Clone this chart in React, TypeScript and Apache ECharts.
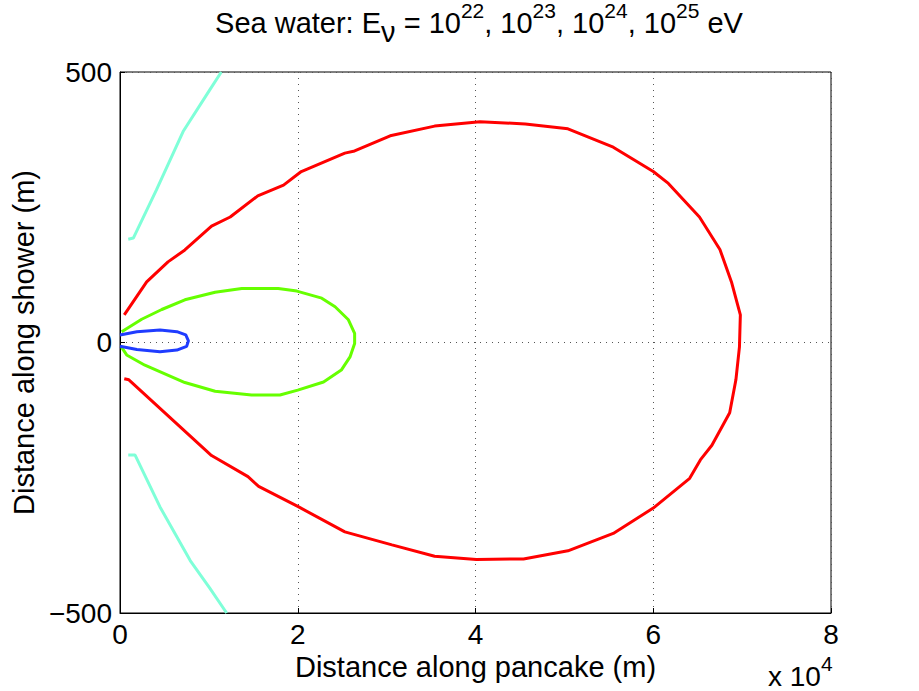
import React, { useEffect, useRef } from "react";
import * as echarts from "echarts";

// Contour lines: [distance along pancake (m), distance along shower (m)]
const red1e22: number[][] = [
  [480, 51], [3000, 112], [5400, 149], [7300, 171], [10300, 215], [12400, 232],
  [15500, 271], [18400, 291], [20400, 316], [25300, 350], [26400, 354],
  [30400, 382], [35400, 400], [40500, 408], [45600, 404], [50400, 395],
  [55500, 361], [60000, 316], [61700, 294], [65200, 232], [67500, 172],
  [68800, 112], [69800, 51], [69700, -8], [69300, -69], [68600, -130],
  [66600, -190], [65300, -217], [64100, -251], [60000, -306], [55500, -353],
  [50400, -385], [45400, -400], [40100, -401], [35400, -395], [30600, -374],
  [25300, -350], [20000, -303], [15600, -266], [14400, -248], [10300, -209],
  [1000, -69], [480, -67],
];
const green1e23: number[][] = [
  [190, 20], [2440, 43], [4700, 61], [7300, 79], [10700, 93], [13700, 100],
  [17800, 100], [19900, 95], [22700, 82], [24200, 66], [25700, 42], [26400, 17],
  [26400, -2], [25900, -26], [24900, -51], [22900, -73], [20000, -88],
  [18000, -97], [14800, -97], [10700, -90], [7300, -74], [2800, -42],
  [750, -23], [190, -9],
];
const blue1e22: number[][] = [
  [0, 14], [1900, 20], [4500, 23], [6400, 20], [7400, 14], [7700, 3],
  [7500, -7], [6400, -14], [4500, -17], [1900, -13], [0, -7],
];
const cyanUpper: number[][] = [
  [930, 191], [1500, 193], [4100, 282], [7100, 390], [10100, 467], [11400, 500],
];
const cyanLower: number[][] = [
  [930, -208], [1700, -208], [4500, -304], [7900, -403], [10100, -454], [12000, -500],
];

const xTicks = [0, 20000, 40000, 60000, 80000];
const yTicks = [-500, 0, 500];
const xScaleExp = 4;
const energyExps = [22, 23, 24, 25];

const FONT = "'Liberation Sans', Arial, Helvetica, sans-serif";

export default function App() {
  const ref = useRef<HTMLDivElement>(null);
  useEffect(() => {
    if (!ref.current) return;
    const chart = echarts.init(ref.current, undefined, { renderer: "svg" });
    const line = (data: number[][], color: string) => ({
      type: "line",
      data,
      symbol: "none",
      smooth: false,
      clip: true,
      lineStyle: { color, width: 3 },
      itemStyle: { color },
    });
    const tStyle = { fontFamily: FONT, color: "#000", fontWeight: "normal", verticalAlign: "top" };
    const titleText =
      "{n|Sea water: E}{sub|ν}{n| = }" +
      energyExps.map((e) => "{n|10}{sup|" + e + "}").join("{n|, }") +
      "{n| eV}";
    chart.setOption({
      animation: false,
      backgroundColor: "#fff",
      title: [
        {
          left: 479,
          top: 0,
          padding: 0,
          textAlign: "center",
          text: titleText,
          textStyle: {
            fontWeight: "normal",
            rich: {
              n: { ...tStyle, fontSize: 29, lineHeight: 36, padding: [8, 0, 0, 0] },
              sup: { ...tStyle, fontSize: 21, lineHeight: 16 },
              sub: { ...tStyle, fontSize: 29, lineHeight: 36, padding: [17, 0, 0, 0] },
            },
          },
        },
        {
          left: 768,
          top: 653,
          padding: 0,
          text: "{n|x 10}{sup|" + xScaleExp + "}",
          textStyle: {
            fontWeight: "normal",
            rich: {
              n: { ...tStyle, fontSize: 28, lineHeight: 28, padding: [9, 0, 0, 0] },
              sup: { ...tStyle, fontSize: 21, lineHeight: 16 },
            },
          },
        },
      ],
      grid: {
        left: 120,
        top: 72,
        right: 88,
        bottom: 78,
        show: true,
        borderColor: "#000",
        borderWidth: 1,
        backgroundColor: "#fff",
      },
      xAxis: {
        type: "value",
        min: xTicks[0],
        max: xTicks[xTicks.length - 1],
        interval: xTicks[1] - xTicks[0],
        name: "Distance along pancake (m)",
        nameLocation: "middle",
        nameGap: 30,
        nameTextStyle: { fontSize: 29, fontFamily: FONT, color: "#000" },
        axisLine: { show: true, onZero: false, lineStyle: { color: "#000", width: 1 } },
        axisTick: { show: true, inside: true, length: 5, lineStyle: { color: "#000" } },
        axisLabel: {
          fontSize: 28,
          fontFamily: FONT,
          color: "#000",
          margin: 7,
          formatter: (v: number) => String(v / Math.pow(10, xScaleExp)),
        },
        splitLine: { show: true, lineStyle: { color: "#555", type: [1, 5], width: 1 } },
      },
      yAxis: {
        type: "value",
        min: yTicks[0],
        max: yTicks[yTicks.length - 1],
        interval: yTicks[1] - yTicks[0],
        name: "Distance along shower (m)",
        nameLocation: "middle",
        nameGap: 70,
        nameRotate: 90,
        nameTextStyle: { fontSize: 29, fontFamily: FONT, color: "#000" },
        axisLine: { show: true, onZero: false, lineStyle: { color: "#000", width: 1 } },
        axisTick: { show: true, inside: true, length: 5, lineStyle: { color: "#000" } },
        axisLabel: {
          fontSize: 28,
          fontFamily: FONT,
          color: "#000",
          margin: 8,
          formatter: (v: number) => String(v).replace("-", "−"),
        },
        splitLine: { show: true, lineStyle: { color: "#555", type: [1, 5], width: 1 } },
      },
      series: [
        line(cyanUpper, "#7fffd8"),
        line(cyanLower, "#7fffd8"),
        line(red1e22, "#ff0000"),
        line(green1e23, "#66ff00"),
        line(blue1e22, "#1f3cff"),
      ],
    });
    return () => chart.dispose();
  }, []);
  return (
    <div
      ref={ref}
      style={{ position: "absolute", left: 0, top: 0, width: 919, height: 691 }}
    />
  );
}
